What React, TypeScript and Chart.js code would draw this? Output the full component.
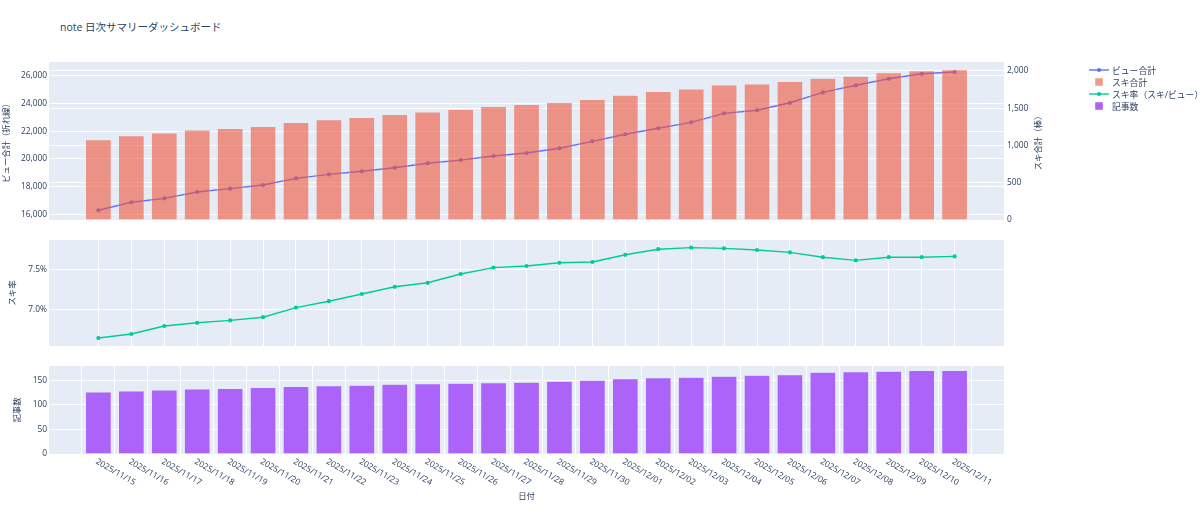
import React, { useEffect, useRef } from "react";
import Chart from "chart.js/auto";

const dates = [
  "2025/11/15", "2025/11/16", "2025/11/17", "2025/11/18", "2025/11/19", "2025/11/20", "2025/11/21",
  "2025/11/22", "2025/11/23", "2025/11/24", "2025/11/25", "2025/11/26", "2025/11/27", "2025/11/28",
  "2025/11/29", "2025/11/30", "2025/12/01", "2025/12/02", "2025/12/03", "2025/12/04", "2025/12/05",
  "2025/12/06", "2025/12/07", "2025/12/08", "2025/12/09", "2025/12/10", "2025/12/11",
];
const views = [
  16300, 16880, 17160, 17620, 17860, 18120, 18600, 18890, 19110, 19370, 19690, 19920, 20210, 20430,
  20770, 21270, 21780, 22210, 22640, 23290, 23510, 24050, 24800, 25310, 25780, 26140, 26270,
];
const likes = [
  1076, 1130, 1166, 1206, 1227, 1254, 1307, 1344, 1374, 1414, 1447, 1481, 1521, 1548,
  1575, 1615, 1674, 1722, 1758, 1811, 1825, 1856, 1901, 1928, 1976, 2003, 2016,
];
const likeRate = [
  6.65, 6.7, 6.8, 6.84, 6.87, 6.91, 7.03, 7.11, 7.2, 7.29, 7.34, 7.45, 7.53, 7.55,
  7.59, 7.6, 7.69, 7.76, 7.78, 7.77, 7.75, 7.72, 7.66, 7.62, 7.66, 7.66, 7.67,
];
const articles = [
  126, 128, 130, 132, 133, 135, 137, 139, 140, 142, 143, 144, 145, 146,
  148, 150, 153, 155, 156, 158, 160, 161, 166, 167, 168, 170, 170,
];

const viewTicks = [16000, 18000, 20000, 22000, 24000, 26000];
const likeTicks = [0, 500, 1000, 1500, 2000];
const rateTicks = [7.0, 7.5];
const articleTicks = [0, 50, 100, 150];

const FONT = '"Open Sans", "Noto Sans CJK JP", sans-serif';
const INK = "#2a3f5f";
const BG = "#E5ECF6";
const BLUE = "#636efa";
const RED = "rgba(239,85,59,0.6)";
const GREEN = "#00cc96";
const PURPLE = "#ab63fa";

const legendItems = [
  { label: "ビュー合計", kind: "line", color: BLUE },
  { label: "スキ合計", kind: "box", color: RED },
  { label: "スキ率（スキ/ビュー）", kind: "line", color: GREEN },
  { label: "記事数", kind: "box", color: PURPLE },
];

const xy = (vals: number[]) => vals.map((v, i) => ({ x: i, y: v }));

const xScale = (grid: boolean) => ({
  type: "linear",
  min: -1.5,
  max: 27.5,
  offset: false,
  grid: { display: grid, color: "#ffffff", lineWidth: 1, drawTicks: false },
  border: { display: false },
  ticks: { display: false },
  afterBuildTicks: (s: any) => {
    s.ticks = dates.map((_, i) => ({ value: i }));
  },
  afterFit: (s: any) => {
    s.height = 0;
  },
});

const yScale = (
  position: string,
  min: number,
  max: number,
  values: number[],
  fmt: (v: number) => string,
  width: number,
  pad: number
) => ({
  type: "linear",
  position,
  min,
  max,
  grid: { color: "#ffffff", lineWidth: 1, drawTicks: false },
  border: { display: false },
  ticks: {
    color: INK,
    font: { family: FONT, size: 8.4 },
    padding: pad,
    callback: (v: any) => fmt(Number(v)),
  },
  afterBuildTicks: (s: any) => {
    s.ticks = values.map((v) => ({ value: v }));
  },
  afterFit: (s: any) => {
    s.width = width;
  },
});

const bgPlugin = {
  id: "panelBg",
  beforeDraw(chart: any) {
    const { ctx, chartArea: a } = chart;
    ctx.save();
    ctx.fillStyle = BG;
    ctx.fillRect(a.left, a.top, a.width, a.height);
    ctx.restore();
  },
};

function vtext(ctx: CanvasRenderingContext2D, text: string, x: number, y: number) {
  ctx.save();
  ctx.translate(x, y);
  ctx.rotate(-Math.PI / 2);
  ctx.font = `8.4px ${FONT}`;
  ctx.fillStyle = INK;
  ctx.textAlign = "center";
  ctx.textBaseline = "middle";
  ctx.fillText(text, 0, 0);
  ctx.restore();
}

// y軸タイトル（左右とも下から上へ読む向き）
const titles = (left: string, leftX: number, right?: string, rightX?: number) => ({
  id: "axisTitles",
  afterDraw(chart: any) {
    const { ctx, chartArea: a } = chart;
    const cy = (a.top + a.bottom) / 2;
    vtext(ctx, left, leftX, cy);
    if (right && rightX) vtext(ctx, right, rightX, cy);
  },
});

const dateLabels = {
  id: "dateLabels",
  afterDraw(chart: any) {
    const { ctx, chartArea: a, scales } = chart;
    ctx.save();
    ctx.font = `8.4px ${FONT}`;
    ctx.fillStyle = INK;
    dates.forEach((d, i) => {
      const px = scales.x.getPixelForValue(i);
      ctx.save();
      ctx.translate(px - 2, a.bottom + 7);
      ctx.rotate(Math.PI / 6);
      ctx.textAlign = "left";
      ctx.textBaseline = "middle";
      ctx.fillText(d, 0, 0);
      ctx.restore();
    });
    ctx.textAlign = "center";
    ctx.textBaseline = "middle";
    ctx.fillText("日付", (a.left + a.right) / 2, a.bottom + 43);
    ctx.restore();
  },
};

const baseOptions = (padding: any) => ({
  responsive: false,
  animation: false,
  layout: { padding },
  plugins: { legend: { display: false }, tooltip: { enabled: false } },
});

const lineDs = (label: string, data: number[], color: string, axis: string, order: number) => ({
  type: "line",
  label,
  data: xy(data),
  yAxisID: axis,
  borderColor: color,
  backgroundColor: color,
  borderWidth: 1.4,
  pointRadius: 2.1,
  pointBorderWidth: 0,
  pointBackgroundColor: color,
  tension: 0,
  order,
});

const barDs = (label: string, data: number[], color: string, axis: string, order: number) => ({
  type: "bar",
  label,
  data: xy(data),
  yAxisID: axis,
  backgroundColor: color,
  borderColor: BG,
  borderWidth: 0.5,
  barPercentage: 0.78,
  categoryPercentage: 1,
  order,
});

const fmtInt = (v: number) => v.toLocaleString("en-US");

function PanelChart({ top, height, build }: { top: number; height: number; build: () => any }) {
  const ref = useRef<HTMLCanvasElement>(null);
  useEffect(() => {
    if (!ref.current) return;
    const chart = new Chart(ref.current, build());
    return () => chart.destroy();
  }, []);
  return (
    <canvas
      ref={ref}
      width={1200}
      height={height}
      style={{ position: "absolute", left: 0, top, display: "block" }}
    />
  );
}

const buildTop = () => ({
  type: "bar",
  data: {
    datasets: [
      lineDs("ビュー合計", views, BLUE, "y", 2),
      barDs("スキ合計", likes, RED, "y1", 1),
    ],
  },
  options: {
    ...baseOptions({ left: 0, right: 152, top: 62, bottom: 10 }),
    scales: {
      x: xScale(false),
      y: yScale("left", 15600, 26990, viewTicks, fmtInt, 49, 2),
      y1: yScale("right", 0, 2119, likeTicks, fmtInt, 44, 3),
    },
  },
  plugins: [bgPlugin, titles("ビュー合計（折れ線）", 7, "スキ合計（棒）", 1039)],
});

const buildMid = () => ({
  type: "line",
  data: { datasets: [lineDs("スキ率（スキ/ビュー）", likeRate, GREEN, "y", 1)] },
  options: {
    ...baseOptions({ left: 0, right: 196, top: 10, bottom: 10 }),
    scales: {
      x: xScale(true),
      y: yScale("left", 6.55, 7.875, rateTicks, (v) => `${v.toFixed(1)}%`, 49, 2),
    },
  },
  plugins: [bgPlugin, titles("スキ率", 13)],
});

const buildBottom = () => ({
  type: "bar",
  data: { datasets: [barDs("記事数", articles, PURPLE, "y", 1)] },
  options: {
    ...baseOptions({ left: 0, right: 196, top: 10, bottom: 54 }),
    scales: {
      x: xScale(true),
      y: yScale("left", 0, 178.9, articleTicks, fmtInt, 49, 2),
    },
  },
  plugins: [bgPlugin, titles("記事数", 18), dateLabels],
});

function Legend() {
  return (
    <>
      {legendItems.map((item, i) => (
        <div
          key={item.label}
          style={{
            position: "absolute",
            left: 1089,
            top: 64 + i * 12,
            height: 12,
            display: "flex",
            alignItems: "center",
            fontFamily: FONT,
            fontSize: 8.8,
            color: INK,
            whiteSpace: "nowrap",
          }}
        >
          <svg width={20} height={12} style={{ display: "block" }}>
            {item.kind === "line" ? (
              <>
                <line x1={0} y1={6} x2={20} y2={6} stroke={item.color} strokeWidth={1.4} />
                <circle cx={10} cy={6} r={2.1} fill={item.color} />
              </>
            ) : (
              <rect x={6.2} y={2.2} width={7.6} height={7.6} fill={item.color} />
            )}
          </svg>
          <span style={{ marginLeft: 3 }}>{item.label}</span>
        </div>
      ))}
    </>
  );
}

export default function App() {
  return (
    <div
      style={{
        position: "absolute",
        left: 0,
        top: 0,
        width: 1200,
        height: 508,
        background: "#ffffff",
        overflow: "hidden",
      }}
    >
      <div
        style={{
          position: "absolute",
          left: 60,
          top: 27,
          transform: "translateY(-50%)",
          fontFamily: FONT,
          fontSize: 10.5,
          color: INK,
          whiteSpace: "nowrap",
          lineHeight: 1,
        }}
      >
        note 日次サマリーダッシュボード
      </div>
      <PanelChart top={0} height={230} build={buildTop} />
      <PanelChart top={230} height={126} build={buildMid} />
      <PanelChart top={356} height={152} build={buildBottom} />
      <Legend />
    </div>
  );
}
